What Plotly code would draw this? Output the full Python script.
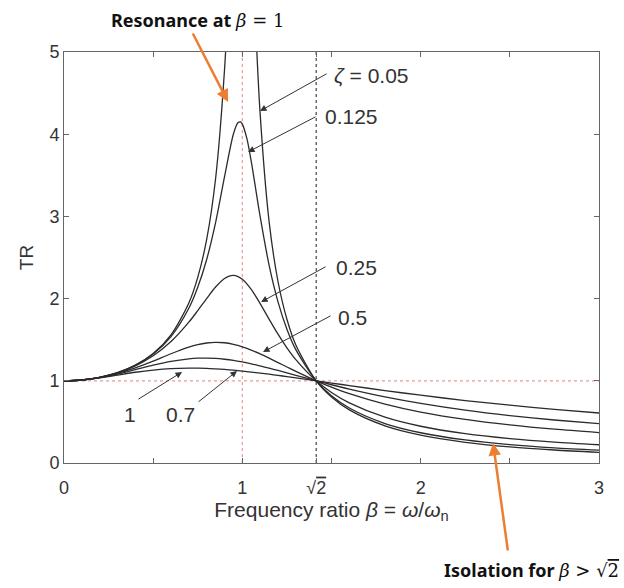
import plotly.graph_objects as go

# frequency ratio samples
beta = [0, 0.1, 0.2, 0.3, 0.4, 0.5, 0.6, 0.7, 0.75, 0.8, 0.85, 0.9, 0.95, 1.0,
        1.05, 1.1, 1.15, 1.2, 1.25, 1.3, 1.4142, 1.5, 1.6, 1.8, 2.0, 2.25, 2.5, 2.75, 3.0]

tr_z1 = [1, 1.010, 1.036, 1.070, 1.104, 1.131, 1.149, 1.155, 1.154, 1.151, 1.145, 1.138, 1.129, 1.118,
         1.106, 1.094, 1.080, 1.066, 1.051, 1.036, 1.0, 0.973, 0.942, 0.881, 0.825, 0.760, 0.703, 0.653, 0.608]
tr_z07 = [1, 1.010, 1.039, 1.082, 1.135, 1.190, 1.237, 1.267, 1.275, 1.276, 1.272, 1.262, 1.248, 1.229,
          1.207, 1.181, 1.154, 1.126, 1.097, 1.067, 1.0, 0.952, 0.899, 0.804, 0.725, 0.643, 0.577, 0.523, 0.478]
tr_z05 = [1, 1.010, 1.040, 1.090, 1.158, 1.240, 1.329, 1.409, 1.440, 1.460, 1.468, 1.463, 1.444, 1.414,
          1.374, 1.328, 1.276, 1.222, 1.168, 1.114, 1.0, 0.923, 0.844, 0.717, 0.620, 0.530, 0.463, 0.411, 0.370]
tr_z025 = [1, 1.010, 1.041, 1.096, 1.181, 1.304, 1.477, 1.713, 1.854, 2.001, 2.141, 2.245, 2.283, 2.236,
           2.112, 1.939, 1.750, 1.567, 1.402, 1.258, 1.0, 0.858, 0.731, 0.557, 0.447, 0.357, 0.297, 0.254, 0.222]

beta_z0125 = [0, 0.1, 0.2, 0.3, 0.4, 0.5, 0.6, 0.7, 0.75, 0.8, 0.85, 0.9, 0.95, 0.975, 0.99, 1.0,
              1.025, 1.05, 1.1, 1.15, 1.2, 1.25, 1.3, 1.4142, 1.5, 1.6, 1.8, 2.0, 2.25, 2.5, 2.75, 3.0]
tr_z0125 = [1, 1.010, 1.042, 1.098, 1.188, 1.325, 1.538, 1.883, 2.138, 2.476, 2.925, 3.481, 4.003, 4.139, 4.149, 4.123,
            3.952, 3.669, 2.997, 2.408, 1.961, 1.628, 1.379, 1.0, 0.818, 0.669, 0.480, 0.368, 0.280, 0.223, 0.184, 0.156]

beta_z005 = [0, 0.1, 0.2, 0.3, 0.4, 0.5, 0.6, 0.7, 0.75, 0.8, 0.85, 0.9, 0.925, 0.95, 1.0,
             1.05, 1.075, 1.1, 1.15, 1.2, 1.25, 1.3, 1.4142, 1.5, 1.6, 1.8, 2.0, 2.25, 2.5, 2.75, 3.0]
tr_z005 = [1, 1.010, 1.042, 1.099, 1.190, 1.332, 1.559, 1.947, 2.259, 2.720, 3.458, 4.780, 5.857, 7.379, 10.05,
           6.853, 5.318, 4.244, 2.940, 2.208, 1.749, 1.436, 1.0, 0.803, 0.646, 0.452, 0.339, 0.252, 0.196, 0.158, 0.130]

series = [
    (beta_z005, tr_z005),
    (beta_z0125, tr_z0125),
    (beta, tr_z025),
    (beta, tr_z05),
    (beta, tr_z07),
    (beta, tr_z1),
]

xtick_vals = [0, 0.5, 1, 1.4142, 1.5, 2, 2.5, 3]
xtick_text = ["0", "", "1", "√<span style='text-decoration:overline'>2</span>", "", "2", "", "3"]
ytick_vals = [0, 1, 2, 3, 4, 5]

TXT = "#333333"
FONT = "Liberation Sans, Arial, sans-serif"
XMAX, YMAX = 3.0, 5.0

fig = go.Figure()
for bx, ty in series:
    fig.add_trace(go.Scatter(x=bx, y=ty, mode="lines", line=dict(color="#2b2b2b", width=1.3, shape="spline", smoothing=0.8),
                             showlegend=False, hoverinfo="skip"))

# reference dotted lines
fig.add_shape(type="line", x0=1, x1=1, y0=0, y1=5, xref="x", yref="y", layer="below",
              line=dict(color="#ec9a9a", width=1.2, dash="dot"))
fig.add_shape(type="line", x0=0, x1=3, y0=1, y1=1, xref="x", yref="y", layer="below",
              line=dict(color="#ec9a9a", width=1.2, dash="dot"))
fig.add_shape(type="line", x0=1.4142, x1=1.4142, y0=0, y1=5, xref="x", yref="y", layer="below",
              line=dict(color="#444444", width=1.2, dash="dot"))

def arrow(tip, tail, color="#333333", width=1, head=2, size=1.0):
    fig.add_annotation(x=tip[0], y=tip[1], ax=tail[0], ay=tail[1], xref="x", yref="y", axref="x", ayref="y",
                       text="", showarrow=True, arrowhead=head, arrowsize=size, arrowwidth=width,
                       arrowcolor=color, standoff=0, startstandoff=0)

def label(x, y, text, anchor="left", size=21, color=TXT, family=FONT):
    # placed in paper coordinates so labels outside the axis range stay visible
    fig.add_annotation(x=x / XMAX, y=y / YMAX, xref="paper", yref="paper", text=text, showarrow=False,
                       xanchor=anchor, yanchor="middle", font=dict(size=size, color=color, family=family))

# black curve labels
arrow((1.099, 4.282), (1.481, 4.745), size=1.3)
label(1.505, 4.72, "<i>ζ</i> = 0.05")
arrow((1.032, 3.783), (1.419, 4.221), size=1.3)
label(1.45, 4.21, "0.125")
arrow((1.105, 1.959), (1.475, 2.397), size=1.3)
label(1.515, 2.384, "0.25")
arrow((1.116, 1.350), (1.503, 1.80), size=1.3)
label(1.528, 1.776, "0.5")
arrow((0.662, 1.107), (0.409, 0.766), size=1.3)
label(0.372, 0.584, "1", anchor="center")
arrow((0.970, 1.119), (0.746, 0.730), size=1.3)
label(0.653, 0.584, "0.7", anchor="center")

# orange callouts
ORANGE = "#ED7D31"
MATH = "<span style='font-family:DejaVu Serif'>"
arrow((0.920, 4.392), (0.718, 5.243), color=ORANGE, width=2.5, head=2, size=1.0)
label(0.749, 5.39, "<b>Resonance at </b>" + MATH + "<i>β</i> = 1</span>",
      anchor="center", size=18, color="#111111", family="Noto Sans, Arial, sans-serif")
arrow((2.406, 0.243), (2.490, -1.083), color=ORANGE, width=2.5, head=2, size=1.0)
label(3.125, -1.30, "<b>Isolation for </b>" + MATH + "<i>β</i> &gt; √<span style='text-decoration:overline'>2</span></span>",
      anchor="right", size=18, color="#111111", family="Noto Sans, Arial, sans-serif")

axis_common = dict(showline=True, linecolor="#666666", linewidth=1, mirror="ticks", ticks="inside",
                   ticklen=5, tickcolor="#666666", showgrid=False, zeroline=False,
                   tickfont=dict(size=18, color=TXT, family=FONT))

fig.update_layout(
    width=624, height=588,
    margin=dict(l=64, r=25, t=52, b=125),
    paper_bgcolor="white", plot_bgcolor="white",
    font=dict(family=FONT, color=TXT),
    xaxis=dict(range=[0, 3], tickmode="array", tickvals=xtick_vals, ticktext=xtick_text,
               ticklabelstandoff=8,
               title=dict(text="Frequency ratio <i>β</i> = <i>ω</i>/<i>ω</i><sub>n</sub>", font=dict(size=21, color=TXT), standoff=2),
               **axis_common),
    yaxis=dict(range=[0, 5], tickmode="array", tickvals=ytick_vals,
               title=dict(text="TR", font=dict(size=19, color=TXT), standoff=10),
               **axis_common),
)

fig.write_html("out.html")
